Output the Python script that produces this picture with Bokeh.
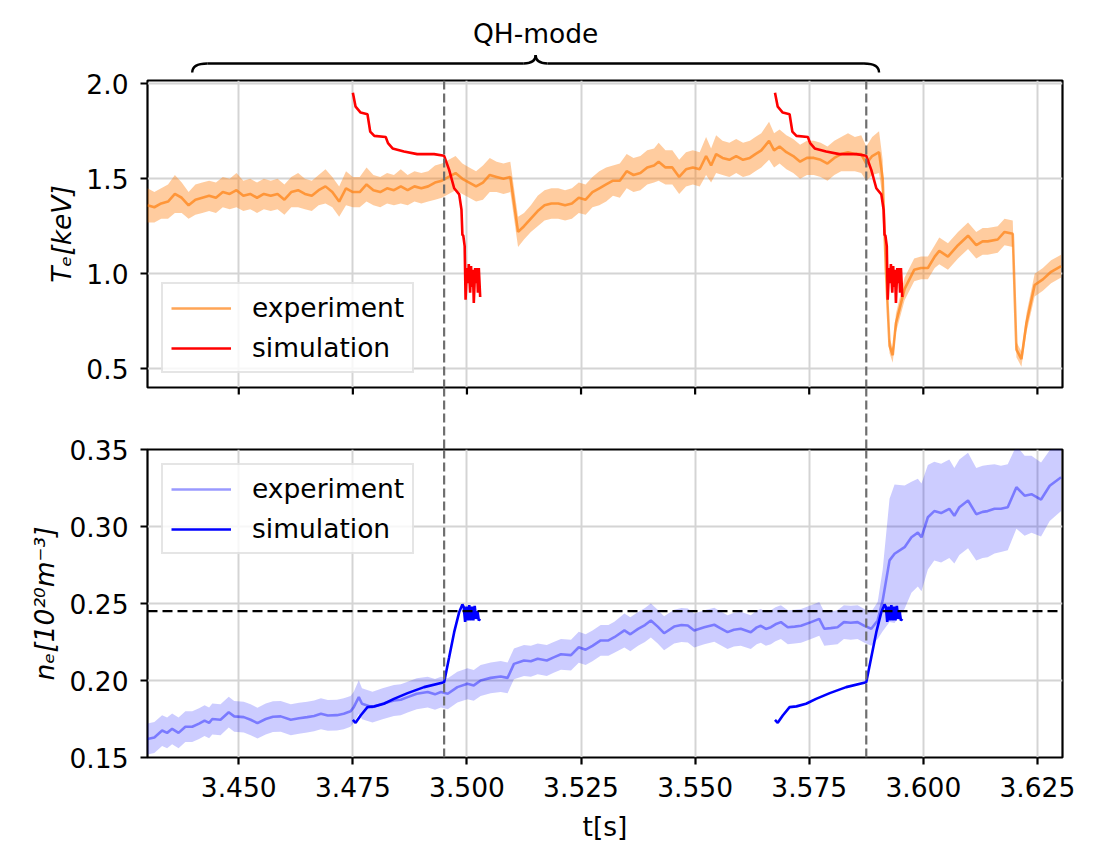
from bokeh.plotting import figure
from bokeh.models import Range1d, Span, Legend, LegendItem, FixedTicker, PrintfTickFormatter
from bokeh.layouts import column
from bokeh.embed import file_html
from bokeh.resources import INLINE
from bokeh.core.properties import value
import numpy as np

# ---------------- data ----------------
x_ticks = [3.450, 3.475, 3.500, 3.525, 3.550, 3.575, 3.600, 3.625]
te_ticks = [0.5, 1.0, 1.5, 2.0]
ne_ticks = [0.15, 0.20, 0.25, 0.30, 0.35]

te_t = [3.4300, 3.4315, 3.4330, 3.4345, 3.4360, 3.4375, 3.4390, 3.4405, 3.4420, 3.4435,
        3.4450, 3.4465, 3.4480, 3.4495, 3.4510, 3.4525, 3.4540, 3.4555, 3.4570, 3.4585,
        3.4600, 3.4615, 3.4630, 3.4645, 3.4660, 3.4675, 3.4690, 3.4705, 3.4720, 3.4735,
        3.4750, 3.4765, 3.4780, 3.4795, 3.4810, 3.4825, 3.4840, 3.4855, 3.4870, 3.4885,
        3.4900, 3.4915, 3.4930, 3.4945, 3.4960, 3.4975, 3.4990, 3.5005, 3.5020, 3.5035,
        3.5050, 3.5065, 3.5080, 3.5095, 3.5112, 3.5125, 3.5140, 3.5155, 3.5170, 3.5185,
        3.5200, 3.5215, 3.5230, 3.5245, 3.5260, 3.5275, 3.5290, 3.5305, 3.5320, 3.5335,
        3.5350, 3.5365, 3.5380, 3.5395, 3.5410, 3.5420, 3.5435, 3.5450, 3.5465, 3.5480,
        3.5495, 3.5510, 3.5524, 3.5535, 3.5546, 3.5560, 3.5575, 3.5590, 3.5605, 3.5620,
        3.5632, 3.5645, 3.5662, 3.5673, 3.5685, 3.5700, 3.5715, 3.5730, 3.5745, 3.5760,
        3.5775, 3.5790, 3.5805, 3.5820, 3.5835, 3.5850, 3.5864, 3.5875, 3.5888, 3.5903,
        3.5911, 3.5918, 3.5926, 3.5933, 3.5940, 3.5959, 3.5980, 3.5995, 3.6010, 3.6025,
        3.6035, 3.6054, 3.6076, 3.6098, 3.6116, 3.6130, 3.6141, 3.6163, 3.6178, 3.6196,
        3.6204, 3.6215, 3.6226, 3.6244, 3.6262, 3.6280, 3.6302]
te_val = [1.36, 1.35, 1.37, 1.38, 1.42, 1.40, 1.36, 1.39, 1.40, 1.41,
          1.40, 1.43, 1.42, 1.44, 1.41, 1.42, 1.40, 1.42, 1.41, 1.42,
          1.39, 1.43, 1.44, 1.42, 1.41, 1.44, 1.46, 1.43, 1.38, 1.45,
          1.43, 1.43, 1.47, 1.44, 1.43, 1.45, 1.44, 1.46, 1.44, 1.46,
          1.45, 1.46, 1.48, 1.49, 1.51, 1.53, 1.50, 1.48, 1.46, 1.48,
          1.52, 1.51, 1.50, 1.51, 1.22, 1.25, 1.29, 1.33, 1.36, 1.37,
          1.37, 1.36, 1.37, 1.40, 1.39, 1.43, 1.45, 1.47, 1.49, 1.49,
          1.54, 1.52, 1.53, 1.56, 1.57, 1.59, 1.56, 1.56, 1.51, 1.55,
          1.56, 1.55, 1.62, 1.57, 1.63, 1.61, 1.60, 1.62, 1.60, 1.61,
          1.63, 1.65, 1.70, 1.65, 1.67, 1.64, 1.62, 1.59, 1.61, 1.61,
          1.60, 1.58, 1.61, 1.63, 1.64, 1.63, 1.63, 1.58, 1.62, 1.64,
          1.50, 1.02, 0.62, 0.57, 0.74, 0.92, 1.02, 1.03, 1.03, 1.09,
          1.12, 1.09, 1.15, 1.20, 1.15, 1.17, 1.17, 1.18, 1.22, 1.21,
          0.60, 0.55, 0.74, 0.94, 0.97, 1.01, 1.04]
te_err = [0.09, 0.08, 0.08, 0.09, 0.10, 0.08, 0.07, 0.08, 0.08, 0.08,
          0.08, 0.08, 0.08, 0.09, 0.08, 0.08, 0.08, 0.08, 0.08, 0.08,
          0.08, 0.08, 0.09, 0.08, 0.08, 0.08, 0.09, 0.08, 0.08, 0.09,
          0.08, 0.08, 0.09, 0.08, 0.08, 0.08, 0.08, 0.09, 0.08, 0.08,
          0.08, 0.08, 0.09, 0.09, 0.09, 0.09, 0.08, 0.08, 0.08, 0.09,
          0.09, 0.08, 0.08, 0.08, 0.08, 0.07, 0.07, 0.08, 0.08, 0.08,
          0.08, 0.08, 0.08, 0.08, 0.08, 0.08, 0.09, 0.09, 0.08, 0.09,
          0.09, 0.09, 0.09, 0.09, 0.09, 0.10, 0.09, 0.09, 0.09, 0.09,
          0.09, 0.09, 0.10, 0.09, 0.10, 0.09, 0.09, 0.09, 0.09, 0.09,
          0.09, 0.09, 0.10, 0.09, 0.09, 0.09, 0.09, 0.09, 0.09, 0.09,
          0.09, 0.09, 0.09, 0.09, 0.10, 0.09, 0.10, 0.09, 0.10, 0.11,
          0.10, 0.06, 0.04, 0.04, 0.05, 0.06, 0.06, 0.06, 0.06, 0.06,
          0.07, 0.07, 0.07, 0.07, 0.07, 0.07, 0.07, 0.07, 0.07, 0.07,
          0.04, 0.04, 0.05, 0.06, 0.06, 0.06, 0.06]

ne_t = [3.4300, 3.4315, 3.4332, 3.4343, 3.4354, 3.4368, 3.4383, 3.4398, 3.4413, 3.4425,
        3.4435, 3.4442, 3.4460, 3.4478, 3.4490, 3.4511, 3.4526, 3.4541, 3.4559, 3.4575,
        3.4592, 3.4614, 3.4632, 3.4650, 3.4665, 3.4680, 3.4695, 3.4715, 3.4730, 3.4745,
        3.4752, 3.4763, 3.4770, 3.4793, 3.4815, 3.4840, 3.4855, 3.4870, 3.4890, 3.4914,
        3.4930, 3.4943, 3.4958, 3.4979, 3.5001, 3.5015, 3.5030, 3.5052, 3.5074, 3.5089,
        3.5103, 3.5125, 3.5140, 3.5155, 3.5175, 3.5190, 3.5206, 3.5228, 3.5245, 3.5260,
        3.5275, 3.5293, 3.5310, 3.5323, 3.5345, 3.5358, 3.5375, 3.5390, 3.5403, 3.5418,
        3.5432, 3.5454, 3.5470, 3.5484, 3.5498, 3.5520, 3.5542, 3.5555, 3.5571, 3.5585,
        3.5600, 3.5622, 3.5635, 3.5644, 3.5655, 3.5666, 3.5676, 3.5688, 3.5703, 3.5718,
        3.5732, 3.5754, 3.5772, 3.5783, 3.5797, 3.5812, 3.5826, 3.5841, 3.5856, 3.5871,
        3.5886, 3.5900, 3.5911, 3.5926, 3.5937, 3.5959, 3.5974, 3.5988, 3.5996, 3.6010,
        3.6024, 3.6039, 3.6057, 3.6068, 3.6079, 3.6098, 3.6116, 3.6130, 3.6141, 3.6156,
        3.6170, 3.6185, 3.6204, 3.6222, 3.6237, 3.6258, 3.6277, 3.6302]
ne_val = [0.1620, 0.1630, 0.1675, 0.1660, 0.1686, 0.1660, 0.1700, 0.1700, 0.1720, 0.1740,
          0.1725, 0.1750, 0.1745, 0.1794, 0.1767, 0.1762, 0.1745, 0.1723, 0.1750, 0.1765,
          0.1767, 0.1745, 0.1755, 0.1762, 0.1770, 0.1784, 0.1773, 0.1775, 0.1784, 0.1800,
          0.1827, 0.1892, 0.1849, 0.1827, 0.1849, 0.1870, 0.1875, 0.1892, 0.1914, 0.1925,
          0.1910, 0.1925, 0.1914, 0.1957, 0.1979, 0.1968, 0.2000, 0.2017, 0.2026, 0.2017,
          0.2108, 0.2130, 0.2125, 0.2141, 0.2130, 0.2150, 0.2170, 0.2165, 0.2216, 0.2200,
          0.2225, 0.2260, 0.2260, 0.2281, 0.2325, 0.2300, 0.2335, 0.2360, 0.2390, 0.2350,
          0.2307, 0.2350, 0.2360, 0.2357, 0.2325, 0.2346, 0.2362, 0.2340, 0.2314, 0.2330,
          0.2336, 0.2314, 0.2345, 0.2355, 0.2335, 0.2346, 0.2365, 0.2379, 0.2346, 0.2350,
          0.2355, 0.2379, 0.2400, 0.2336, 0.2340, 0.2346, 0.2379, 0.2375, 0.2379, 0.2355,
          0.2336, 0.2390, 0.2520, 0.2780, 0.2823, 0.2866, 0.2930, 0.2960, 0.2930, 0.3060,
          0.3100, 0.3087, 0.3115, 0.3070, 0.3125, 0.3169, 0.3080, 0.3095, 0.3100, 0.3115,
          0.3115, 0.3125, 0.3255, 0.3200, 0.3210, 0.3175, 0.3265, 0.3320]
ne_err = [0.010, 0.010, 0.010, 0.010, 0.010, 0.010, 0.010, 0.010, 0.010, 0.010,
          0.010, 0.010, 0.010, 0.010, 0.010, 0.010, 0.010, 0.010, 0.010, 0.010,
          0.010, 0.010, 0.010, 0.010, 0.010, 0.010, 0.010, 0.010, 0.010, 0.010,
          0.010, 0.011, 0.010, 0.010, 0.010, 0.010, 0.010, 0.010, 0.010, 0.010,
          0.010, 0.010, 0.010, 0.010, 0.010, 0.010, 0.010, 0.010, 0.010, 0.010,
          0.010, 0.010, 0.010, 0.010, 0.010, 0.010, 0.010, 0.010, 0.010, 0.010,
          0.010, 0.010, 0.010, 0.010, 0.011, 0.011, 0.011, 0.011, 0.011, 0.011,
          0.011, 0.011, 0.011, 0.011, 0.011, 0.011, 0.011, 0.011, 0.011, 0.011,
          0.011, 0.011, 0.011, 0.011, 0.011, 0.011, 0.011, 0.011, 0.011, 0.011,
          0.011, 0.011, 0.011, 0.011, 0.011, 0.011, 0.011, 0.011, 0.011, 0.011,
          0.011, 0.012, 0.020, 0.040, 0.045, 0.040, 0.036, 0.035, 0.035, 0.034,
          0.032, 0.032, 0.032, 0.031, 0.031, 0.031, 0.030, 0.030, 0.030, 0.029,
          0.028, 0.028, 0.027, 0.026, 0.025, 0.024, 0.023, 0.022]

# simulation: time offsets from each simulation start
sim_starts = [3.4750, 3.5675]
sim_te_dt = [0.0000, 0.0006, 0.0017, 0.0032, 0.0038, 0.0047, 0.0072, 0.0077, 0.0087, 0.0112,
             0.0141, 0.0178, 0.0200, 0.0211, 0.0222, 0.0233, 0.0238, 0.0240, 0.0242, 0.0245,
             0.0247, 0.0250, 0.0252, 0.0254, 0.0257, 0.0259, 0.0261, 0.0263, 0.0265, 0.0268,
             0.0270, 0.0272, 0.0274, 0.0276, 0.0279]
sim_te = [1.954, 1.880, 1.849, 1.840, 1.749, 1.726, 1.720, 1.688, 1.660, 1.644,
          1.630, 1.630, 1.621, 1.547, 1.450, 1.418, 1.337, 1.205, 1.200, 1.145,
          0.863, 1.030, 0.950, 1.050, 0.900, 1.040, 0.930, 1.020, 0.846, 1.030,
          0.950, 1.030, 0.900, 1.030, 0.877]
sim_ne_dt = [0.0000, 0.0006, 0.0017, 0.0032, 0.0047, 0.0068, 0.0090, 0.0120, 0.0156, 0.0200,
             0.0211, 0.0222, 0.0233, 0.0240, 0.0243, 0.0246, 0.0249, 0.0252, 0.0255, 0.0258,
             0.0261, 0.0264, 0.0267, 0.0270, 0.0273, 0.0276, 0.0279]
sim_ne = [0.1745, 0.1725, 0.1773, 0.1827, 0.1832, 0.1849, 0.1881, 0.1918, 0.1957, 0.1989,
          0.2151, 0.2314, 0.2444, 0.2494, 0.2476, 0.2380, 0.2480, 0.2390, 0.2490, 0.2390,
          0.2480, 0.2390, 0.2485, 0.2400, 0.2450, 0.2390, 0.2400]

qh_lines = [3.4950, 3.5875]
ne_threshold = 0.245
brace_span = [3.4398, 3.5903]
brace_label = "QH-mode"

# ---------------- style / layout ----------------
FONT = "DejaVu Sans"
FS = "26.5px"
LEFT, RIGHT = 147, 30
W = LEFT + 915 + RIGHT
TOP_H, BOT_H = 307, 308        # frame heights
BRACE_H = 80                   # canvas above the top frame
GAP_H = 62                     # space between the two frames
OV_TOP, OV_BOT, OV_GAP = 15, 16, 4   # overlaps (transparent borders)
LW = 2.6
DASH_GREY = "#6e6e6e"

xr = Range1d(3.4300, 3.6305)


def fig(height, y_range, top, bottom, xloc, yloc, **kw):
    p = figure(width=W, height=height, x_range=xr, y_range=y_range,
               x_axis_location=xloc, y_axis_location=yloc,
               toolbar_location=None, output_backend="svg",
               min_border_left=LEFT, min_border_right=RIGHT,
               min_border_top=top, min_border_bottom=bottom, **kw)
    p.background_fill_color = "white"
    p.border_fill_alpha = 0
    return p


def plain(p):
    p.outline_line_color = None
    p.background_fill_alpha = 0
    p.xgrid.visible = False
    p.ygrid.visible = False


def style_axes(p):
    p.outline_line_color = "black"
    p.outline_line_width = 2.2
    for g in p.xgrid + p.ygrid:
        g.grid_line_color = "#d4d4d4"
        g.grid_line_width = 2
    p.xgrid.ticker = FixedTicker(ticks=x_ticks)
    for ax in p.yaxis + p.xaxis:
        ax.axis_line_color = None
        ax.major_tick_line_width = 2.2
        ax.major_tick_line_color = "black"
        ax.major_tick_out = 7
        ax.major_tick_in = 0
        ax.minor_tick_line_color = None
        ax.major_label_text_font = FONT
        ax.major_label_text_font_size = FS
        ax.major_label_text_color = "black"
        ax.axis_label_text_font = FONT
        ax.axis_label_text_font_size = FS
        ax.axis_label_text_color = "black"
        ax.axis_label_text_font_style = "normal"
    for ax in p.yaxis:
        ax.major_label_standoff = 12
        ax.axis_label_standoff = 6
        ax.axis_label_text_font_style = "italic"
    for ax in p.xaxis:
        ax.major_label_standoff = 12
        ax.axis_label_standoff = 11


def make_legend(items, loc):
    return Legend(items=items, location=loc, margin=14, padding=8, spacing=9,
                  glyph_width=60, glyph_height=30, label_height=30, label_standoff=21,
                  label_text_font=FONT, label_text_font_size=FS, label_text_color="black",
                  border_line_color="#cccccc", border_line_width=2.2,
                  background_fill_color="white", background_fill_alpha=0.8)


def vspans(p):
    for loc in qh_lines:
        p.add_layout(Span(location=loc, dimension="height", line_color=DASH_GREY,
                          line_width=2.2, line_dash="9 4"))


# ---------------- brace above the top panel ----------------
brace = fig(BRACE_H, Range1d(0, BRACE_H), 0, 0, None, None)
plain(brace)
L, R = brace_span
M = 0.5 * (L + R)
h = 0.0033     # hook width (data units)
k = 0.0026     # tip half width (data units)
y_end, y_mid, y_tip = 8, 17, 25.5
brace.quadratic(x0=[L, M - k, M, R - h], y0=[y_end, y_mid, y_tip, y_mid],
                x1=[L + h, M, M + k, R], y1=[y_mid, y_tip, y_mid, y_end],
                cx=[L, M, M, R], cy=[y_mid] * 4,
                line_color="black", line_width=2.4)
brace.segment(x0=[L + h, M + k], y0=[y_mid, y_mid], x1=[M - k, R - h], y1=[y_mid, y_mid],
              line_color="black", line_width=2.4)
brace.text(x=[M], y=[47.5], text=[brace_label], text_font=value(FONT),
           text_font_size=FS, text_align="center", text_baseline="alphabetic",
           text_color="black")

# ---------------- top panel (Te) ----------------
top = fig(OV_TOP + TOP_H + OV_GAP, Range1d(0.400, 2.018), OV_TOP, OV_GAP, None, "left",
          y_axis_label="Tₑ[keV]")
top.margin = (-OV_TOP, 0, 0, 0)
style_axes(top)
top.yaxis.ticker = FixedTicker(ticks=te_ticks)
top.yaxis.formatter = PrintfTickFormatter(format="%.1f")

te_v = np.array(te_val)
te_e = np.array(te_err)
top.varea(x=te_t, y1=te_v - te_e, y2=te_v + te_e, fill_color="#ff7f0e", fill_alpha=0.4)
te_line = top.line(te_t, te_val, line_color="#ff7f0e", line_alpha=0.7, line_width=LW)
te_sim_r = [top.line([s + d for d in sim_te_dt], sim_te, line_color="red", line_width=LW)
            for s in sim_starts]
vspans(top)
top.add_layout(make_legend([LegendItem(label="experiment", renderers=[te_line]),
                            LegendItem(label="simulation", renderers=[te_sim_r[0]])],
                           "bottom_left"))

# ---------------- gap: x ticks of the top panel, dashed lines crossing ----------------
gap = fig(GAP_H, Range1d(0, GAP_H), 0, 0, None, None)
gap.margin = (-OV_GAP, 0, 0, 0)
plain(gap)
gap.segment(x0=x_ticks, y0=[GAP_H] * len(x_ticks), x1=x_ticks, y1=[GAP_H - 7] * len(x_ticks),
            line_color="black", line_width=2.2)
vspans(gap)

# ---------------- bottom panel (ne) ----------------
bot = fig(OV_BOT + BOT_H + 99, Range1d(0.15, 0.35), OV_BOT, 99, "below", "left",
          x_axis_label="t[s]", y_axis_label="nₑ[10²⁰m⁻³]")
bot.margin = (-OV_BOT, 0, 0, 0)
style_axes(bot)
bot.xaxis.ticker = FixedTicker(ticks=x_ticks)
bot.xaxis.formatter = PrintfTickFormatter(format="%.3f")
bot.yaxis.ticker = FixedTicker(ticks=ne_ticks)
bot.yaxis.formatter = PrintfTickFormatter(format="%.2f")

ne_v = np.array(ne_val)
ne_e = np.array(ne_err)
bot.varea(x=ne_t, y1=ne_v - ne_e, y2=ne_v + ne_e, fill_color="blue", fill_alpha=0.2)
ne_line = bot.line(ne_t, ne_val, line_color="blue", line_alpha=0.4, line_width=LW)
ne_sim_r = [bot.line([s + d for d in sim_ne_dt], sim_ne, line_color="blue", line_width=LW)
            for s in sim_starts]
vspans(bot)
bot.add_layout(Span(location=ne_threshold, dimension="width", line_color="black",
                    line_width=2.2, line_dash="10 5"))
bot.add_layout(make_legend([LegendItem(label="experiment", renderers=[ne_line]),
                            LegendItem(label="simulation", renderers=[ne_sim_r[0]])],
                           "top_left"))

layout = column(brace, top, gap, bot, spacing=0)
open("out.html", "w").write(file_html(layout, INLINE))
